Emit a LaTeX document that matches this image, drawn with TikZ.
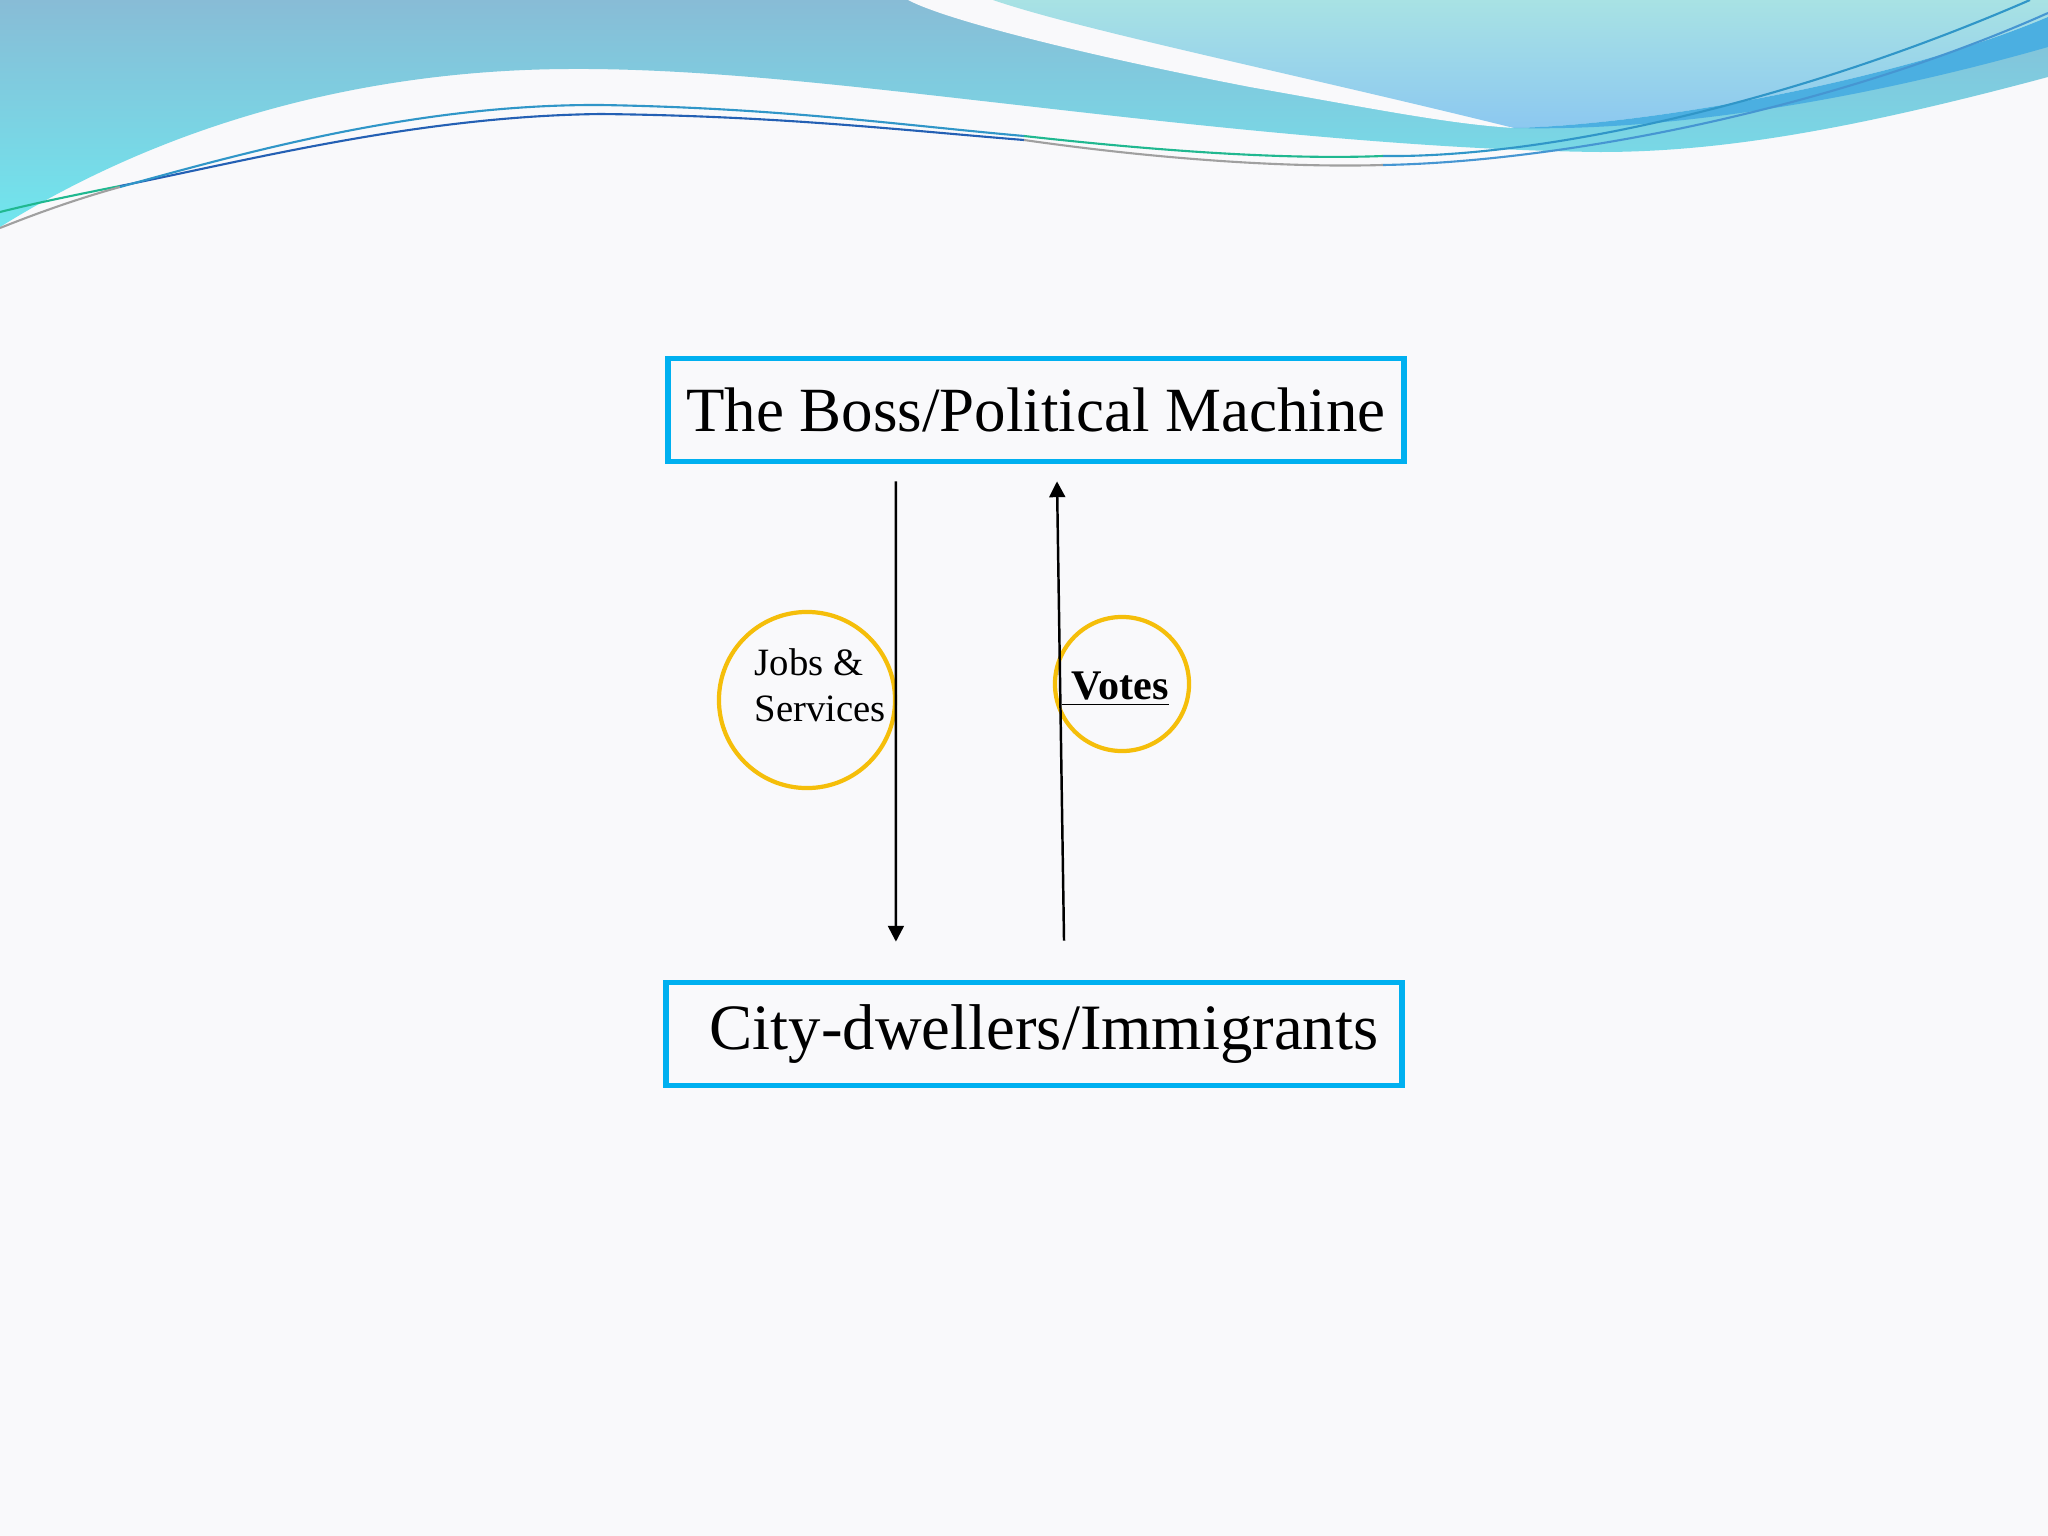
\documentclass[tikz,border=0pt]{standalone}
\usepackage{fontspec}
\setmainfont{Liberation Serif}
\usetikzlibrary{arrows.meta}

\definecolor{paper}{RGB}{249,249,251}
\definecolor{boxblue}{RGB}{0,176,240}
\definecolor{ringgold}{RGB}{245,190,10}
\definecolor{wavetop}{RGB}{136,188,214}
\definecolor{wavebottom}{RGB}{112,230,238}
\definecolor{lighttop}{RGB}{168,226,228}
\definecolor{lightbottom}{RGB}{140,200,240}
\definecolor{bandblue}{RGB}{75,175,225}
\definecolor{lineteal}{RGB}{48,150,200}
\definecolor{linenavy}{RGB}{36,96,180}
\definecolor{linegreen}{RGB}{32,184,144}
\definecolor{linegrey}{RGB}{160,160,160}
\definecolor{linesky}{RGB}{70,150,210}

\tikzset{
  box/.style={draw=boxblue, line width=1.6pt, minimum width=7.36cm,
    minimum height=1.03cm, inner sep=0pt, font=\fontsize{17.9}{21}\selectfont},
  ring/.style={circle, draw=ringgold, line width=1.2pt, inner sep=0pt},
  ringtext/.style={inner sep=0pt, font=\fontsize{11}{13.2}\selectfont},
  flow/.style={-{Triangle[length=4.5pt,width=4.5pt]}, line width=0.7pt},
  thread/.style={line width=0.6pt}
}

\begin{document}
\begin{tikzpicture}[x=0.01cm, y=-0.01cm]
  \useasboundingbox (0,0) rectangle (2048,1536);
  \fill[paper] (0,0) rectangle (2048,1536);

  % header wave
  \shade[top color=wavetop, bottom color=wavebottom]
    (0,0) -- (2048,0) -- (2048,77)
    .. controls (1850,130) and (1720,152) .. (1600,152)
    .. controls (1400,150) and (1150,120) .. (1000,103)
    .. controls (850,86) and (700,68) .. (568,69)
    .. controls (380,70) and (180,115) .. (0,227) -- cycle;
  \fill[paper]
    (908,0) .. controls (950,22) and (1100,58) .. (1250,87)
    .. controls (1380,110) and (1450,124) .. (1514,128)
    .. controls (1650,125) and (1900,80) .. (2048,17) -- (2048,0) -- cycle;
  \shade[top color=lighttop, bottom color=lightbottom]
    (993,0) .. controls (1080,30) and (1300,75) .. (1514,128)
    .. controls (1650,125) and (1900,80) .. (2048,17) -- (2048,0) -- cycle;
  \fill[bandblue]
    (1514,128) .. controls (1650,125) and (1900,80) .. (2048,17)
    -- (2048,47) .. controls (1880,95) and (1680,132) .. (1514,128) -- cycle;

  \draw[thread, linegreen] (0,212) .. controls (40,202) and (80,194) .. (120,186);
  \draw[thread, linenavy] (120,186) .. controls (250,160) and (420,116) .. (601,114);
  \draw[thread, linenavy] (601,114) .. controls (780,116) and (900,130) .. (1024,140);
  \draw[thread, linegrey] (1024,140) .. controls (1150,158) and (1280,168) .. (1383,165);
  \draw[thread, linesky] (1383,165) .. controls (1560,162) and (1830,110) .. (2048,13);
  \draw[thread, linegrey] (0,228) .. controls (40,212) and (80,198) .. (120,187);
  \draw[thread, lineteal] (120,187) .. controls (250,151) and (420,104) .. (601,105);
  \draw[thread, lineteal] (601,105) .. controls (780,108) and (900,125) .. (1024,136);
  \draw[thread, linegreen] (1024,136) .. controls (1150,150) and (1280,160) .. (1383,156);
  \draw[thread, lineteal] (1383,156) .. controls (1550,158) and (1800,100) .. (2030,0);

  % diagram
  \node[box] (boss) at (1036,410) {The Boss/Political Machine};
  \node[box, font=\fontsize{18.4}{21}\selectfont] (city) at (1034,1034)
    {\hspace*{0.2cm}City-dwellers/Immigrants};
  \node[ring, minimum size=1.76cm] (jobs) at (807,700) {};
  \node[ring, minimum size=1.34cm] (votes) at (1122,684) {};
  \node[ringtext, anchor=west, align=left] (jobstext) at (754,685) {Jobs \&\\Services};
  \node[ringtext, anchor=base west, font=\fontsize{12}{14}\selectfont] (votestext)
    at (1061,699) {\underline{\hspace{0.1cm}\textbf{Votes}}};

  \draw[flow] ([xshift=-1.40cm,yshift=-0.17cm]boss.south)
    -- ([xshift=-1.38cm,yshift=0.38cm]city.north);
  \draw[flow] ([xshift=0.30cm,yshift=0.39cm]city.north)
    -- ([xshift=0.21cm,yshift=-0.17cm]boss.south);
\end{tikzpicture}
\end{document}
